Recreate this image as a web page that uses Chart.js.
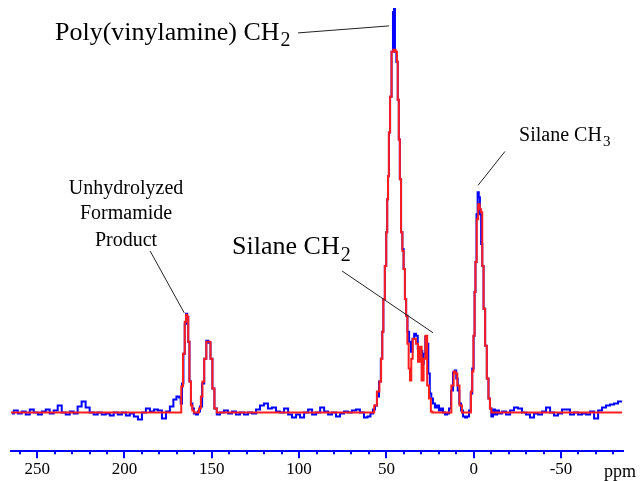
<!DOCTYPE html>
<html>
<head>
<meta charset="utf-8">
<script src="https://cdn.jsdelivr.net/npm/chart.js@4.4.0/dist/chart.umd.min.js"></script>
<style>
  html, body { margin: 0; padding: 0; background: #fff; }
  #wrap { width: 644px; height: 481px; }
</style>
</head>
<body>
<div id="wrap"><canvas id="nmr"></canvas></div>
<script>
// 13C CP/MAS spectrum, experimental (blue) and fitted (red)
var ppmBlue = [264.5, 262.2, 260, 257.7, 255.4, 253.1, 250.8, 248.5, 246.2, 244, 241.7, 239.4, 237.1, 234.8, 232.5,
    230.2, 228, 225.7, 223.4, 221.1, 218.8, 216.5, 214.2, 211.9, 209.6, 207.3, 205, 202.7, 200.3, 198.1, 195.8,
    193.5, 191.1, 188.9, 186.6, 184.3, 182, 179.7, 177.4, 175.1, 172.9, 171.1, 169.4, 168.1, 167.5, 166.6, 165.9,
    165.1, 164.4, 163.8, 163.2, 162.4, 161.5, 160.8, 159.7, 158.5, 157.4, 156.2, 154.9, 153.8, 152.5, 151.4, 150.1,
    149.2, 147.8, 146.5, 144.2, 141.9, 139.6, 137.3, 135, 132.7, 130.4, 128.1, 125.8, 123.5, 121.3, 119, 116.7,
    114.4, 112.1, 109.8, 107.4, 105.2, 102.9, 100.6, 98.3, 96, 93.7, 91.4, 89.1, 86.8, 84.5, 82.3, 80, 77.7, 75.4,
    73.2, 70.9, 68.6, 66.3, 64, 61.7, 60, 58.3, 57.1, 56, 54.8, 53.7, 52.7, 52.1, 51.4, 50.4, 49.8, 49.3, 48.8,
    48.3, 47.5, 46.6, 45.9, 45.4, 44.8, 43.8, 43.2, 42.6, 42, 41.2, 40.5, 39.8, 39, 38.4, 37.5, 36.5, 35.5, 34.6,
    33.6, 32.5, 31.6, 30.8, 29.9, 29, 28.2, 27.3, 26.4, 25.6, 24.7, 23.9, 22.8, 21.6, 20.5, 19.3, 18.2, 17, 15.9,
    14.7, 13.6, 12.4, 11.3, 10.4, 9.6, 8.7, 7.8, 6.7, 5.6, 4.4, 3.3, 2.1, 1.3, 0.4, -0.3, -0.7, -1.3, -1.9, -2.6,
    -3.2, -3.9, -4.6, -5.2, -6.1, -7, -8, -8.9, -9.7, -10.5, -11.6, -12.8, -13.9, -15.1, -17.4, -19.7, -22, -24.2,
    -26.5, -28.8, -31.1, -33.4, -35.7, -38, -40.3, -42.6, -44.9, -47.1, -49.4, -51.7, -54, -56.3, -58.6, -60.9,
    -63.2, -65.5, -67.8, -70.1, -72.4, -74.6, -76.9, -79.2, -81.5, -83.8, -85];
var intBlue = [-1, 2, -1, 1, -2, 3, 0, -2, 1, 3, -1, 2, 7, 0, -2,
    1, -1, 6, 11, 5, 0, -2, 0, -2, -1, -3, 0, -2, 0, -3, -1,
    -4, -7, 0, 4, 1, 3, 2, -6, 1, 6, 13, 16, 15, 9, 29, 59,
    89, 99, 96, 71, 31, 9, 4, -1, -2, 1, 6, 29, 54, 72, 70, 54,
    24, 4, -2, 0, 2, -1, 1, -2, 0, -2, 0, -1, 3, 7, 9, 4,
    5, 1, 0, 4, -2, -5, -2, -5, 0, 3, -2, 0, 5, 1, -2, 0, -4, -1,
    1, 0, 2, 3, 0, -5, -4, -1, 3, 7, 16, 31, 54, 81, 114, 147, 181, 214, 237,
    281, 317, 362, 402, 405, 362, 352, 314, 274, 234, 181, 164, 144, 114, 97, 81, 71, 61, 74,
    79, 77, 64, 52, 62, 49, 59, 76, 69, 39, 19, 14, 9, 5, 7, 2, 4, 0, -2,
    -1, 4, 22, 40, 42, 34, 22, 9, 2, -4, -5, -4, 2, 19, 44, 77, 121, 151, 199, 221,
    216, 199, 169, 147, 104, 67, 34, 14, 4, -4, 3, -2, 2, -1, 1, -2, 2, 5,
    4, 0, -2, -5, -1, -2, 1, 5, 0, -3, -1, 3, 3, -2, 0, -2,
    -1, -2, 1, -6, 2, 5, 7, 8, 9, 11, 11];

var ppmRed = [265, 167.9, 167.1, 165.9, 165.1, 164.4, 163.8, 163.2, 162.4, 161.5, 160.8, 159.7, 157.9, 156.7,
    155.8, 154.9, 153.8, 152.5, 151.4, 150.1, 149.2, 147.8, 146.5, 57.6, 56.4, 54.5, 53.5, 52.6, 52.1, 51.4,
    50.4, 49.8, 49.3, 48.9, 48.3, 47.5, 46.6, 45.4, 44.1, 43.8, 43.2, 42.6, 42, 41.2, 40.5, 39.8, 39, 38.4,
    37.6, 36.9, 36.1, 35.4, 34.5, 33.7, 32.5, 31.3, 30.5, 29.2, 28.2, 27.1, 26.2, 25, 24.1, 23.4, 13.6, 12,
    11, 9.9, 8.9, 7.4, 6.1, 2.1, 1.1, 0.6, -0.3, -0.7, -1.3, -2.1, -3, -3.9, -4.6, -5.2, -6.1, -7, -8, -8.9,
    -9.7, -10.5, -85];
var intRed = [0, 0, 26, 59, 91, 98, 96, 71, 31, 7, 2, 0, 0, 4,
    16, 31, 54, 71, 71, 54, 24, 4, 0, 0, 7, 21, 31, 54, 81, 114,
    147, 181, 214, 237, 281, 317, 362, 364, 362, 352, 314, 274, 234, 181, 162, 144, 114, 97,
    69, 44, 32, 54, 74, 74, 69, 51, 66, 32, 54, 77, 27, 14, 1, 0, 0, 27,
    41, 39, 27, 7, 0, 0, 21, 41, 77, 121, 151, 194, 209, 204, 201, 147, 104, 67, 34, 14,
    4, 0, 0];

var tickValues = [250, 200, 150, 100, 50, 0, -50];

// labels: anchor in ppm / intensity, leader line from -> to
var notes = [
    { text: ['Poly(vinylamine) CH'], sub: '2', size: 26, ppm: 239.8, y: [374], align: 'left', from: [100.6, 381], to: [48.5, 388] },
    { text: ['Silane CH'], sub: '3', size: 20, ppm: -26, y: [272], align: 'left', from: [-17.9, 262], to: [-2.5, 228] },
    { text: ['Silane CH'], sub: '2', size: 26, ppm: 138.4, y: [159], align: 'left', from: [75.4, 142], to: [23.3, 80] },
    { text: ['Unhydrolyzed', 'Formamide', 'Product'], sub: '', size: 20, ppm: 199.1, y: [219, 194, 167], align: 'center', from: [185.3, 162], to: [165.8, 100] }
];

var serif = '"Liberation Serif", "Times New Roman", serif';

function pts(xs, ys) {
    return xs.map(function (x, i) { return { x: x, y: ys[i] }; });
}

var extras = {
    id: 'extras',
    afterDraw: function (chart) {
        var ctx = chart.ctx, xs = chart.scales.x, ys = chart.scales.y;
        var yAxis = xs.top;
        ctx.save();
        // minor ticks every 10 ppm
        ctx.strokeStyle = 'rgb(0,0,255)';
        ctx.lineWidth = 2;
        for (var v = 260; v >= -80; v -= 10) {
            if (v % 50 === 0) continue;
            var px = Math.round(xs.getPixelForValue(v));
            ctx.beginPath();
            ctx.moveTo(px, yAxis);
            ctx.lineTo(px, yAxis + 3);
            ctx.stroke();
        }
        // ppm unit
        ctx.fillStyle = '#000';
        ctx.font = '18px ' + serif;
        ctx.textBaseline = 'alphabetic';
        ctx.textAlign = 'left';
        ctx.fillText('ppm', 604, 477);

        // annotations
        notes.forEach(function (n) {
            ctx.strokeStyle = '#222';
            ctx.lineWidth = 1;
            ctx.beginPath();
            ctx.moveTo(xs.getPixelForValue(n.from[0]), ys.getPixelForValue(n.from[1]));
            ctx.lineTo(xs.getPixelForValue(n.to[0]), ys.getPixelForValue(n.to[1]));
            ctx.stroke();
            var x0 = xs.getPixelForValue(n.ppm);
            ctx.fillStyle = '#000';
            n.text.forEach(function (t, i) {
                var yy = ys.getPixelForValue(n.y[i]);
                ctx.font = n.size + 'px ' + serif;
                ctx.textAlign = n.align;
                ctx.fillText(t, x0, yy);
                if (n.sub && i === n.text.length - 1) {
                    var w = ctx.measureText(t).width;
                    ctx.font = Math.round(n.size * 0.75) + 'px ' + serif;
                    ctx.textAlign = 'left';
                    ctx.fillText(n.sub, x0 + w + 1, yy + n.size * 0.25);
                }
            });
        });
        ctx.restore();
    }
};

new Chart(document.getElementById('nmr').getContext('2d'), {
    type: 'line',
    data: {
        datasets: [{
            label: 'Fit',
            data: pts(ppmRed, intRed),
            borderColor: 'rgb(255,30,30)',
            borderWidth: 2,
            pointRadius: 0,
            stepped: 'middle',
            fill: false
        }, {
            label: 'Experimental',
            data: pts(ppmBlue, intBlue),
            borderColor: 'rgb(0,0,255)',
            borderWidth: 2,
            pointRadius: 0,
            stepped: 'middle',
            fill: false
        }]
    },
    options: {
        responsive: true,
        maintainAspectRatio: false,
        animation: false,
        layout: { padding: { left: 11, right: 21, top: 5, bottom: 0 } },
        plugins: { legend: { display: false }, tooltip: { enabled: false } },
        scales: {
            x: {
                type: 'linear',
                reverse: true,
                min: -85.5,
                max: 265,
                afterBuildTicks: function (scale) {
                    scale.ticks = tickValues.map(function (v) { return { value: v }; });
                },
                grid: { drawOnChartArea: false, drawTicks: true, tickLength: 7, color: 'rgb(0,0,255)', lineWidth: 2 },
                border: { display: true, color: 'rgb(0,0,255)', width: 2 },
                ticks: { color: '#000', padding: 2, maxRotation: 0, font: { family: serif, size: 17, lineHeight: 1.1 } }
            },
            y: { display: false, min: -39, max: 409 }
        }
    },
    plugins: [extras]
});
</script>
</body>
</html>
